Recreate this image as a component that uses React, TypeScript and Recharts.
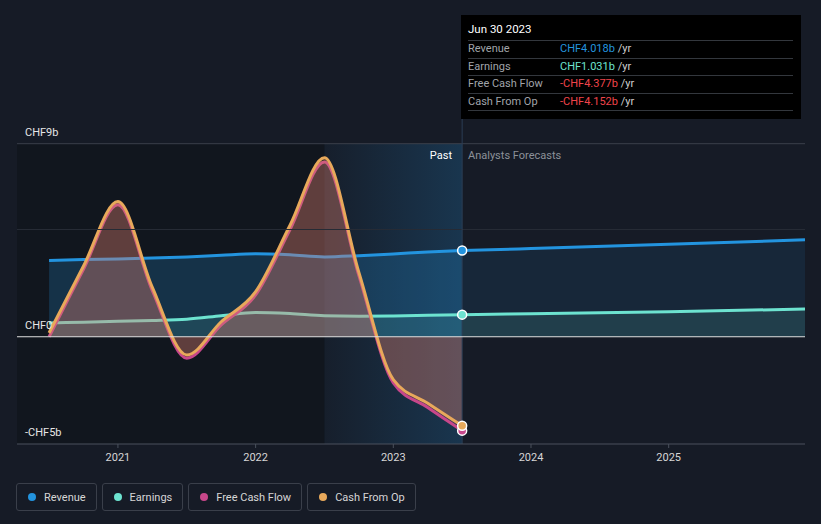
import React from "react";
import {
  ComposedChart,
  Area,
  XAxis,
  YAxis,
  ReferenceLine,
  ReferenceArea,
} from "recharts";

// ---- data ----
const pastX = [2020.5, 2020.75, 2021.0, 2021.25, 2021.5, 2021.75, 2022.0, 2022.25, 2022.5, 2022.75, 2023.0, 2023.25, 2023.5];
const revenuePast = [3.56, 3.6, 3.63, 3.67, 3.72, 3.8, 3.87, 3.82, 3.72, 3.78, 3.86, 3.95, 4.018];
const earningsPast = [0.64, 0.68, 0.72, 0.76, 0.82, 0.98, 1.13, 1.08, 0.98, 0.96, 0.97, 1.0, 1.031];
const cashFromOp = [0.18, 3.3, 6.3, 2.3, -0.85, 0.7, 2.1, 5.2, 8.35, 3.0, -2.0, -3.1, -4.152];
const freeCashFlow = [0.0, 3.15, 6.15, 2.15, -1.0, 0.55, 1.95, 5.0, 8.15, 2.85, -2.15, -3.3, -4.377];

const fcX = [2023.5, 2024.0, 2025.0, 2025.99];
const revenueFc = [4.018, 4.11, 4.31, 4.52];
const earningsFc = [1.031, 1.07, 1.17, 1.29];

const xTicks = [2021, 2022, 2023, 2024, 2025];
const yLabelTicks = [-5, 0, 9];
const yLabels: Record<string, string> = { "-5": "-CHF5b", "0": "CHF0", "9": "CHF9b" };

const legendItems = [
  { name: "Revenue", color: "#2394df" },
  { name: "Earnings", color: "#6de3d0" },
  { name: "Free Cash Flow", color: "#c7478a" },
  { name: "Cash From Op", color: "#e8a95b" },
];

const tooltipRows = [
  { label: "Revenue", value: "CHF4.018b", color: "#2394df" },
  { label: "Earnings", value: "CHF1.031b", color: "#6de3d0" },
  { label: "Free Cash Flow", value: "-CHF4.377b", color: "#f0444b" },
  { label: "Cash From Op", value: "-CHF4.152b", color: "#f0444b" },
];

// build table
const table: any[] = pastX.map((x, i) => ({
  x,
  revenuePast: revenuePast[i],
  earningsPast: earningsPast[i],
  cfo: cashFromOp[i],
  fcf: freeCashFlow[i],
}));
fcX.forEach((x, i) => {
  let row = table.find((r) => r.x === x);
  if (!row) {
    row = { x };
    table.push(row);
  }
  row.revenueFc = revenueFc[i];
  row.earningsFc = earningsFc[i];
});

const LAST_X = 2023.5;

const makeDot = (color: string) => (props: any) => {
  const { cx, cy, payload, index } = props;
  if (!payload || payload.x !== LAST_X || cy == null || isNaN(cy)) {
    return <g key={`d-${color}-${index}`} />;
  }
  return (
    <circle key={`d-${color}-${index}`} cx={cx} cy={cy} r={4.5} fill={color} stroke="#ffffff" strokeWidth={1.5} />
  );
};

const YTick = (props: any) => {
  const { y, payload } = props;
  const label = yLabels[String(payload.value)];
  if (!label) return <g />;
  return (
    <text x={25} y={y - 8} fill="#e6e6e6" fontSize={11} fontFamily="Roboto, sans-serif" textAnchor="start">
      {label}
    </text>
  );
};

export default function App() {
  const font = "Roboto, 'Noto Sans', sans-serif";
  return (
    <div
      style={{
        position: "fixed",
        left: 0,
        top: 0,
        width: 821,
        height: 524,
        background: "#161b26",
        fontFamily: font,
        overflow: "hidden",
      }}
    >
      <ComposedChart
        width={821}
        height={524}
        data={table}
        margin={{ top: 15, right: 16, bottom: 50, left: 17 }}
      >
        <defs>
          <linearGradient id="lastYear" x1="0" y1="0" x2="1" y2="0">
            <stop offset="0%" stopColor="#2394df" stopOpacity={0.03} />
            <stop offset="100%" stopColor="#2394df" stopOpacity={0.22} />
          </linearGradient>
        </defs>
        <XAxis
          dataKey="x"
          type="number"
          domain={[2020.267, 2025.99]}
          ticks={xTicks}
          height={30}
          axisLine={{ stroke: "#4a505c" }}
          tickLine={{ stroke: "#4a505c" }}
          tickSize={4}
          tickMargin={5}
          tick={{ fill: "#d6d6d6", fontSize: 11, fontFamily: font }}
          allowDataOverflow
        />
        <ReferenceArea x1={2020.267} x2={2022.5} y1={-5} y2={9} fill="#0b0e14" fillOpacity={0.4} stroke="none" />
        <ReferenceArea x1={2022.5} x2={2023.5} y1={-5} y2={9} fill="url(#lastYear)" fillOpacity={1} stroke="none" />
        <ReferenceLine y={9} stroke="#3a3f4a" strokeWidth={1} />
        <ReferenceLine y={5} stroke="#262b35" strokeWidth={1} />
        <ReferenceLine x={2023.5} stroke="#2a3d55" strokeWidth={1} />

        <Area
          dataKey="revenueFc"
          type="monotone"
          stroke="#2394df"
          strokeWidth={3}
          fill="#2394df"
          fillOpacity={0.1}
          dot={false}
          activeDot={false}
          isAnimationActive={false}
        />
        <Area
          dataKey="earningsFc"
          type="monotone"
          stroke="#6de3d0"
          strokeWidth={3}
          fill="#6de3d0"
          fillOpacity={0.12}
          dot={false}
          activeDot={false}
          isAnimationActive={false}
        />
        <Area
          dataKey="revenuePast"
          type="monotone"
          stroke="#2394df"
          strokeWidth={3}
          fill="#2394df"
          fillOpacity={0.22}
          dot={false}
          activeDot={false}
          isAnimationActive={false}
        />
        <Area
          dataKey="earningsPast"
          type="monotone"
          stroke="#6de3d0"
          strokeWidth={3}
          fill="#6de3d0"
          fillOpacity={0.12}
          dot={false}
          activeDot={false}
          isAnimationActive={false}
        />
        <Area
          dataKey="fcf"
          type="monotone"
          stroke="#c7478a"
          strokeWidth={3}
          fill="#c7478a"
          fillOpacity={0.22}
          dot={false}
          activeDot={false}
          isAnimationActive={false}
        />
        <Area
          dataKey="cfo"
          type="monotone"
          stroke="#e8a95b"
          strokeWidth={3}
          fill="#e8a95b"
          fillOpacity={0.22}
          dot={false}
          activeDot={false}
          isAnimationActive={false}
        />
        <ReferenceLine y={0} stroke="#e0e0e0" strokeWidth={1.2} />
        {/* end dots */}
        <Area dataKey="revenuePast" type="monotone" stroke="none" fill="none" dot={makeDot("#2394df")} activeDot={false} isAnimationActive={false} />
        <Area dataKey="earningsPast" type="monotone" stroke="none" fill="none" dot={makeDot("#6de3d0")} activeDot={false} isAnimationActive={false} />
        <Area dataKey="fcf" type="monotone" stroke="none" fill="none" dot={makeDot("#c7478a")} activeDot={false} isAnimationActive={false} />
        <Area dataKey="cfo" type="monotone" stroke="none" fill="none" dot={makeDot("#e8a95b")} activeDot={false} isAnimationActive={false} />
        <YAxis
          type="number"
          domain={[-5, 15]}
          ticks={yLabelTicks}
          width={60}
          mirror
          axisLine={false}
          tickLine={false}
          tick={<YTick />}
          allowDataOverflow
        />
      </ComposedChart>

      {/* Past / Forecast labels */}
      <div style={{ position: "absolute", left: 380, width: 72, top: 149, textAlign: "right", color: "#ffffff", fontSize: 11 }}>
        Past
      </div>
      <div style={{ position: "absolute", left: 468, top: 149, color: "#8c9199", fontSize: 11 }}>
        Analysts Forecasts
      </div>

      {/* tooltip box */}
      <div
        style={{
          position: "absolute",
          left: 461,
          top: 15,
          width: 340,
          height: 104,
          background: "#000000",
          boxSizing: "border-box",
          padding: "0 8px 0 7px",
        }}
      >
        <div style={{ color: "#ffffff", fontSize: 11.5, height: 25, lineHeight: "29px", borderBottom: "1px solid #33373d" }}>
          Jun 30 2023
        </div>
        {tooltipRows.map((r) => (
          <div
            key={r.label}
            style={{
              display: "flex",
              height: 16.5,
              lineHeight: "16.5px",
              fontSize: 11,
              borderBottom: "1px solid #33373d",
            }}
          >
            <span style={{ width: 92, color: "#a0a4aa" }}>{r.label}</span>
            <span style={{ color: r.color }}>{r.value}</span>
            <span style={{ color: "#cfcfcf", whiteSpace: "pre" }}> /yr</span>
          </div>
        ))}
      </div>

      {/* legend */}
      <div style={{ position: "absolute", left: 16, top: 483, display: "flex", gap: 5 }}>
        {legendItems.map((l) => (
          <div
            key={l.name}
            style={{
              height: 28,
              boxSizing: "border-box",
              border: "1px solid #3a3f4a",
              borderRadius: 3,
              display: "flex",
              alignItems: "center",
              padding: "0 10px 0 11px",
              color: "#d6d6d6",
              fontSize: 11,
            }}
          >
            <span
              style={{
                width: 8,
                height: 8,
                borderRadius: 4,
                background: l.color,
                display: "inline-block",
                marginRight: 8,
              }}
            />
            {l.name}
          </div>
        ))}
      </div>
    </div>
  );
}
